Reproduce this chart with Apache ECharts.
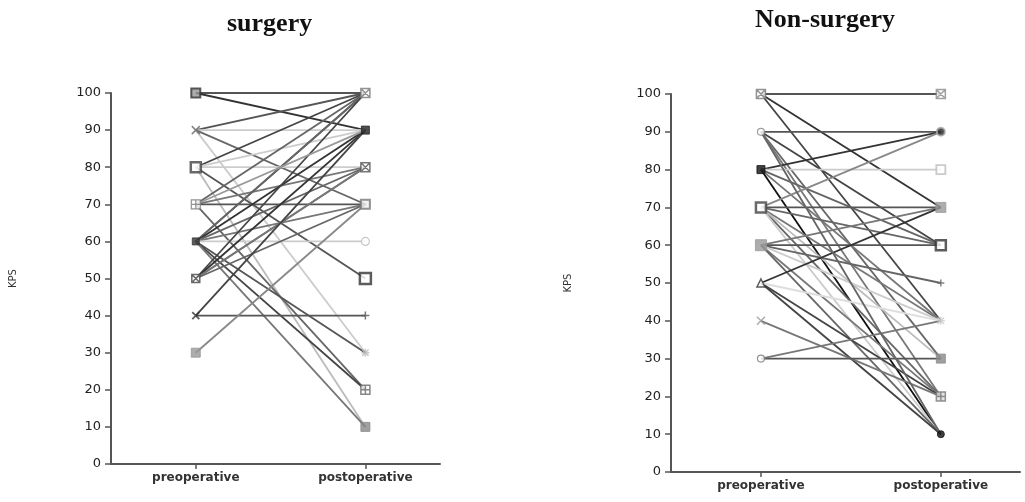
<!DOCTYPE html>
<html>
<head>
<meta charset="utf-8">
<script src="https://cdn.jsdelivr.net/npm/echarts@6/dist/echarts.min.js"></script>
<style>html,body{margin:0;padding:0;background:#fff}#c{width:1025px;height:502px}</style>
</head>
<body>
<div id="c"></div>
<script>
// ---------- data ----------
const categories = ['preoperative', 'postoperative'];
const yTicks = [0, 10, 20, 30, 40, 50, 60, 70, 80, 90, 100];
const panelTitles = ['surgery', 'Non-surgery'];
const yName = 'KPS';

// surgery group: KPS before and after, one entry per patient
const surgeryPre  = [100,100, 90, 90, 90, 90, 80, 80, 80, 80, 80, 70, 70, 70, 70, 60, 60, 60, 60, 60, 60, 60, 60, 60, 50, 50, 50, 50, 50, 40, 40, 30, 70];
const surgeryPost = [100, 90,100, 90, 70, 30,100, 90, 80, 50, 10,100, 80, 70, 20,100,100, 90, 80, 70, 60, 30, 20, 10,100, 90, 80, 80, 70, 40, 90, 70, 90];

// non-surgery group
const nonSurgeryPre  = [100,100,100, 90, 90, 90, 90, 80, 80, 80, 80, 80, 70, 70, 70, 70, 70, 70, 70, 60, 60, 60, 60, 60, 60, 50, 50, 50, 50, 40, 30, 30, 90];
const nonSurgeryPost = [100, 70, 40, 90, 60, 30, 20, 90, 80, 10, 60, 40, 70, 90, 60, 40, 20, 30, 10, 60, 70, 50, 40, 20, 10, 70, 20, 10, 40, 20, 30, 40, 10];

// ---------- styles (not data) ----------
const surgeryGrays = ['#555','#333','#555','#ccc','#666','#ccc','#444','#ccc','#ccc','#555','#bbb','#666','#777','#555','#666','#444','#666','#333','#666','#777','#ccc','#555','#444','#777','#444','#333','#666','#777','#666','#555','#444','#888','#999'];
const nonSurgeryGrays = ['#555','#333','#444','#555','#444','#666','#777','#333','#ccc','#111','#666','#777','#555','#888','#666','#777','#666','#bbb','#ccc','#555','#777','#666','#ccc','#777','#666','#333','#444','#444','#ddd','#777','#555','#777','#666'];

const SQX = 'path://M0,0H10V10H0ZM0,0L10,10M10,0L0,10';
const SQP = 'path://M0,0H10V10H0ZM5,0V10M0,5H10';
const XS  = 'path://M0,0L10,10M10,0L0,10';
const PLUS = 'path://M5,0V10M0,5H10';
const STAR = 'path://M5,0V10M0,5H10M1,1L9,9M9,1L1,9';
const OCIRC = 'path://M10,5A5,5,0,1,1,0,5A5,5,0,1,1,10,5Z';
const OTRI = 'path://M5,0L10,10H0Z';

function mk(symbol, fill, stroke, size, bw) {
  return { symbol, itemStyle: { color: fill, borderColor: stroke, borderWidth: bw } , symbolSize: size };
}
const surgeryMarkStyles = {
  pre: {100: mk('rect','#999','#333',9,2), 90: mk(XS,'none','#666',8,1.5), 80: mk('rect','#fff','#444',10,2.5),
        70: mk(SQP,'#fff','#777',9,1.2), 60: mk('rect','#333','#333',7,1), 50: mk(SQX,'#fff','#444',8,1.5),
        40: mk(XS,'none','#333',7,1.8), 30: mk('rect','#999','#999',9,1)},
  post: {100: mk(SQX,'#fff','#777',9,1.5), 90: mk('rect','#222','#222',8,1), 80: mk(SQX,'#fff','#555',9,1.5),
        70: mk('rect','#eee','#777',9,2), 60: mk(OCIRC,'#fff','#bbb',8,1.2), 50: mk('rect','#fff','#333',11,2.5),
        40: mk(PLUS,'none','#555',8,1.5), 30: mk(STAR,'none','#bbb',8,1.5), 20: mk(SQP,'#fff','#666',9,1.5), 10: mk('rect','#888','#888',9,1)}
};
const nonSurgeryMarkStyles = {
  pre: {100: mk(SQX,'#fff','#777',9,1.5), 90: mk(OCIRC,'#fff','#888',7,1.2), 80: mk('rect','#111','#111',8,1),
        70: mk('rect','#fff','#444',10,2.5), 60: mk('rect','#999','#999',11,1), 50: mk(OTRI,'#fff','#333',8,1.5),
        40: mk(XS,'none','#999',8,1.5), 30: mk(OCIRC,'#fff','#777',7,1.2)},
  post: {100: mk(SQX,'#fff','#888',9,1.5), 90: mk('circle','#222','#aaa',8,2), 80: mk('rect','#fff','#bbb',9,1.8),
        70: mk('rect','#999','#999',10,1), 60: mk('rect','#fff','#333',10,2.5), 50: mk(PLUS,'none','#666',7,1.5),
        40: mk(STAR,'none','#ccc',8,1.5), 30: mk('rect','#888','#888',9,1), 20: mk(SQP,'#ddd','#777',9,1.5), 10: mk('circle','#111','#111',7,1)}
};

// ---------- build ----------
const font = 'DejaVu Sans';
const grids = [
  { left: 111, top: 93, width: 329, height: 371 },
  { left: 671, top: 94, width: 349, height: 378 }
];
const xAxes = grids.map((g, i) => ({
  type: 'value', gridIndex: i, min: 0.5, max: 2.44,
  axisLine: { show: true, lineStyle: { color: '#555', width: 2 } },
  axisTick: { show: true, customValues: [1, 2], length: 5, lineStyle: { color: '#555', width: 1.5 } },
  axisLabel: { customValues: [1, 2], formatter: v => categories[Math.round(v) - 1] || '',
               fontFamily: font, fontWeight: 'bold', fontSize: 12, color: '#333', margin: 8 },
  splitLine: { show: false }
}));
const yAxes = grids.map((g, i) => ({
  type: 'value', gridIndex: i, min: 0, max: 100, interval: 10,
  name: yName, nameLocation: 'middle', nameRotate: 90, nameGap: i === 0 ? 93 : 98,
  nameTextStyle: { fontFamily: font, fontSize: 10, color: '#333' },
  axisLine: { show: true, lineStyle: { color: '#555', width: 2 } },
  axisTick: { show: true, length: 6, lineStyle: { color: '#555', width: 1.5 } },
  axisLabel: { fontFamily: font, fontSize: 13, color: '#222', margin: 10,
               customValues: yTicks },
  splitLine: { show: false }
}));

const series = [];
function addPanel(idx, pre, post, grays, styles) {
  for (let k = 0; k < pre.length; k++) {
    series.push({
      type: 'line', xAxisIndex: idx, yAxisIndex: idx, silent: true,
      showSymbol: false, symbol: 'none',
      lineStyle: { color: grays[k], width: 1.8 },
      data: [[1, pre[k]], [2, post[k]]]
    });
  }
  const preVals = [...new Set(pre)];
  const postVals = [...new Set(post)];
  const pts = [];
  preVals.forEach(v => { const s = styles.pre[v]; pts.push(Object.assign({ value: [1, v] }, s)); });
  postVals.forEach(v => { const s = styles.post[v]; pts.push(Object.assign({ value: [2, v] }, s)); });
  series.push({ type: 'scatter', xAxisIndex: idx, yAxisIndex: idx, silent: true, z: 5, data: pts });
}
addPanel(0, surgeryPre, surgeryPost, surgeryGrays, surgeryMarkStyles);
addPanel(1, nonSurgeryPre, nonSurgeryPost, nonSurgeryGrays, nonSurgeryMarkStyles);

const chart = echarts.init(document.getElementById('c'), null, { renderer: 'canvas' });
chart.setOption({
  backgroundColor: '#fff',
  animation: false,
  title: [
    { text: panelTitles[0], left: 222, top: 6, textStyle: { fontFamily: 'Liberation Serif', fontWeight: 'bold', fontSize: 26, color: '#111' } },
    { text: panelTitles[1], left: 750, top: 2, textStyle: { fontFamily: 'Liberation Serif', fontWeight: 'bold', fontSize: 26, color: '#111' } }
  ],
  grid: grids,
  xAxis: xAxes,
  yAxis: yAxes,
  series
});
</script>
</body>
</html>
